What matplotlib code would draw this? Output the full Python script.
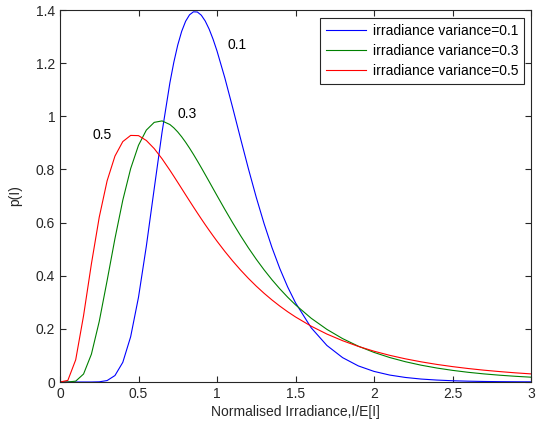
import matplotlib
matplotlib.use("Agg")
import matplotlib.pyplot as plt

# normalised irradiance values
irr = [0, 0.05, 0.10, 0.15, 0.20, 0.25, 0.30, 0.35, 0.40, 0.45, 0.50,
       0.55, 0.60, 0.65, 0.70, 0.725, 0.75, 0.775, 0.80, 0.825, 0.85, 0.875,
       0.90, 0.925, 0.95, 0.975, 1.00,
       1.05, 1.10, 1.15, 1.20, 1.25, 1.30, 1.35, 1.40, 1.45, 1.50,
       1.6, 1.7, 1.8, 1.9, 2.0, 2.1, 2.2, 2.3, 2.4, 2.5, 2.6, 2.7, 2.8, 2.9, 3.0]

p_var01 = [0, 0, 0, 0, 0.0000, 0.0007, 0.0054, 0.0243, 0.0740, 0.1703, 0.3190,
           0.5115, 0.7272, 0.9401, 1.1262, 1.2034, 1.2682, 1.3196, 1.3575, 1.3818, 1.3932, 1.3924,
           1.3804, 1.3585, 1.3280, 1.2900, 1.2459,
           1.1443, 1.0320, 0.9163, 0.8027, 0.6950, 0.5958, 0.5063, 0.4270, 0.3578, 0.2981,
           0.2040, 0.1375, 0.0917, 0.0606, 0.0399, 0.0261, 0.0171, 0.0111, 0.0073, 0.0047,
           0.0031, 0.0020, 0.0013, 0.0009, 0.0006]

p_var03 = [0, 0.0000, 0.0032, 0.0300, 0.1046, 0.2281, 0.3813, 0.5398, 0.6843, 0.8030, 0.8909,
           0.9481, 0.9771, 0.9826, 0.9690, 0.9565, 0.9410, 0.9228, 0.9024, 0.8802, 0.8567, 0.8320,
           0.8066, 0.7806, 0.7544, 0.7279, 0.7016,
           0.6495, 0.5990, 0.5507, 0.5049, 0.4620, 0.4220, 0.3849, 0.3507, 0.3192, 0.2904,
           0.2399, 0.1980, 0.1633, 0.1348, 0.1114, 0.0921, 0.0763, 0.0633, 0.0526, 0.0438,
           0.0365, 0.0305, 0.0256, 0.0215, 0.0181]

p_var05 = [0, 0.0060, 0.0835, 0.2495, 0.4445, 0.6205, 0.7570, 0.8502, 0.9048, 0.9280, 0.9272,
           0.9089, 0.8785, 0.8401, 0.7969, 0.7742, 0.7512, 0.7280, 0.7047, 0.6816, 0.6587, 0.6361,
           0.6139, 0.5921, 0.5709, 0.5502, 0.5300,
           0.4914, 0.4553, 0.4215, 0.3900, 0.3608, 0.3338, 0.3088, 0.2857, 0.2644, 0.2448,
           0.2100, 0.1804, 0.1554, 0.1340, 0.1159, 0.1004, 0.0872, 0.0759, 0.0662, 0.0579,
           0.0507, 0.0445, 0.0392, 0.0345, 0.0305]

labels = ["irradiance variance=0.1", "irradiance variance=0.3", "irradiance variance=0.5"]
curve_notes = ["0.1", "0.3", "0.5"]
note_pos = [(1.13, 1.27), (0.81, 1.01), (0.27, 0.93)]

xticks = [0, 0.5, 1, 1.5, 2, 2.5, 3]
xticklabels = ["0", "0.5", "1", "1.5", "2", "2.5", "3"]
yticks = [0, 0.2, 0.4, 0.6, 0.8, 1.0, 1.2, 1.4]
yticklabels = ["0", "0.2", "0.4", "0.6", "0.8", "1", "1.2", "1.4"]

plt.rcParams['font.family'] = ['Liberation Sans', 'DejaVu Sans']
plt.rcParams['font.size'] = 10

fig = plt.figure(figsize=(5.47, 4.23), dpi=100)
ax = fig.add_axes([60 / 547, 41 / 423, 471 / 547, 372 / 423])

colors = ['#0000ff', '#008000', '#ff0000']
for ys, lab, c in zip([p_var01, p_var03, p_var05], labels, colors):
    ax.plot(irr, ys, color=c, lw=0.8, label=lab)

for txt, (tx, ty) in zip(curve_notes, note_pos):
    ax.text(tx, ty, txt, ha='center', va='center', fontsize=10)

ax.set_xlim(0, 3)
ax.set_ylim(0, 1.4)
ax.set_xticks(xticks)
ax.set_xticklabels(xticklabels)
ax.set_yticks(yticks)
ax.set_yticklabels(yticklabels)
ax.tick_params(direction='in', top=True, right=True, length=4, width=0.8,
               labelsize=10, colors='#262626')
for sp in ax.spines.values():
    sp.set_linewidth(0.8)
    sp.set_color('#262626')

ax.set_xlabel('Normalised Irradiance,I/E[I]', fontsize=10, color='#262626', labelpad=3)
ax.set_ylabel('p(I)', fontsize=10, color='#262626', labelpad=10)

leg = ax.legend(loc='upper right', bbox_to_anchor=(0.985, 0.978), borderaxespad=0,
                fontsize=10, fancybox=False, framealpha=1, edgecolor='#262626',
                handlelength=2.9, borderpad=0.4, labelspacing=0.45, handletextpad=0.5)
leg.get_frame().set_linewidth(0.8)

fig.savefig('out.png', dpi=100, facecolor='white')
